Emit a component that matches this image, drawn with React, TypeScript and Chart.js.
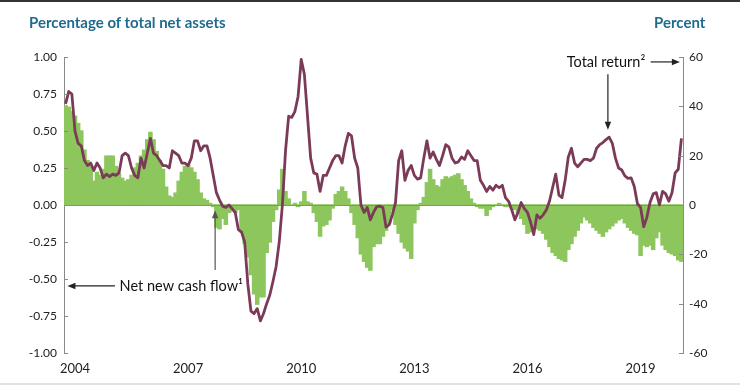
import React, { useEffect, useRef } from 'react';
import { Chart, registerables } from 'chart.js';

Chart.register(...registerables);

// Monthly series; first category is October 2003
const START_YEAR = 2003;
const START_MONTH = 10;
const yearLabels = ['2004', '2007', '2010', '2013', '2016', '2019'];

// Net new cash flow, percentage of total net assets (left axis)
const netNewCashFlow = [
  0.67, 0.66, 0.63, 0.60, 0.55, 0.50, 0.37, 0.30, 0.26, 0.16,
  0.22, 0.20, 0.24, 0.33, 0.33, 0.33, 0.26, 0.21, 0.18, 0.16,
  0.17, 0.20, 0.25, 0.28, 0.33, 0.37, 0.44, 0.49, 0.44, 0.36,
  0.30, 0.24, 0.12, 0.06, 0.05, 0.08, 0.16, 0.22, 0.26, 0.27,
  0.25, 0.22, 0.17, 0.08, 0.04, 0.03, 0.01, -0.01, -0.15, -0.16,
  -0.09, -0.13, -0.05, -0.04, -0.05, -0.03, -0.18, -0.26, -0.35, -0.47,
  -0.60, -0.67, -0.62, -0.62, -0.32, -0.25, -0.11, -0.03, 0.10, 0.24,
  0.09, 0.04, 0.00, 0.01, -0.01, 0.02, 0.09, 0.02, 0.01, -0.05,
  -0.11, -0.21, -0.14, -0.13, -0.10, -0.02, 0.07, 0.09, 0.12, 0.09,
  0.04, -0.05, -0.13, -0.22, -0.33, -0.38, -0.42, -0.44, -0.28, -0.26,
  -0.26, -0.21, -0.17, -0.12, -0.03, -0.13, -0.19, -0.25, -0.29, -0.31,
  -0.36, -0.12, -0.03, 0.01, 0.05, 0.15, 0.24, 0.17, 0.13, 0.12,
  0.17, 0.19, 0.18, 0.19, 0.20, 0.21, 0.17, 0.13, 0.09, 0.04,
  0.01, -0.01, -0.02, -0.02, -0.07, -0.03, -0.01, 0.00, 0.01, 0.00,
  -0.01, -0.01, -0.02, -0.03, -0.05, -0.09, -0.13, -0.19, -0.18, -0.16,
  -0.16, -0.17, -0.19, -0.23, -0.28, -0.32, -0.34, -0.36, -0.37, -0.38,
  -0.30, -0.26, -0.21, -0.17, -0.12, -0.08, -0.10, -0.12, -0.15, -0.17,
  -0.19, -0.21, -0.18, -0.16, -0.14, -0.12, -0.10, -0.09, -0.12, -0.15,
  -0.17, -0.19, -0.20, -0.34, -0.27, -0.28, -0.27, -0.30, -0.22, -0.18,
  -0.27, -0.30, -0.32, -0.33, -0.34, -0.37, -0.38,
];

// Total return, percent (right axis)
const totalReturn = [
  41, 46, 45, 30, 25, 24, 18, 16, 17, 14,
  17, 15, 11, 12.5, 11.5, 12.5, 12, 13, 20, 21,
  20, 15, 12, 11, 19, 15, 21, 27, 21, 20,
  18, 16, 16, 15, 22, 21, 20, 17, 17, 16,
  19, 26, 26, 22, 24, 24, 19, 12, 5, 2,
  -0.5, -1, 0, -1.5, -3, -10, -11, -15, -32, -43,
  -44, -42, -47, -44, -40, -36.5, -31, -25, -15, 0,
  22, 36, 35.5, 38, 44, 59, 53, 36, 19, 13,
  12.5, 5.5, 12, 12, 15, 18, 20, 20, 17, 24,
  29, 28, 19, 15, 0, -3, -1, -6, -3, -0.7,
  -0.5, -1, -9, -8, -4, 1, 18, 22, 10, 14,
  16, 12, 10.5, 11, 19, 26, 19, 21.5, 18.5, 16,
  20, 24.5, 23.5, 19, 17, 17.5, 19.5, 18.5, 22, 20,
  18, 18, 10, 8, 5.5, 7.5, 6, 8, 7, 8,
  3, 1.5, -2, -6, -3, 1, -1.5, -3, -7, -12,
  -4, -5.4, -4, -2, 1.5, 7, 12.5, 4, 3, 10,
  19.5, 23, 17, 15.5, 17, 18.5, 18.5, 18, 19, 23,
  24.5, 25.3, 26.5, 27.5, 25, 19, 15, 14.2, 11.8, 10.8,
  11, 7.5, 0.5, -1, -8.8, -5, 1, 4.5, 5, 0,
  5.5, 4.5, 1.5, 5, 13, 14.5, 27,
];

const months = netNewCashFlow.map((_, i) => {
  const m = START_MONTH - 1 + i;
  const y = START_YEAR + Math.floor(m / 12);
  const mm = (m % 12) + 1;
  return `${y}-${String(mm).padStart(2, '0')}`;
});

const GREEN = '#8dc65c';
const MAROON = '#7b3b58';
const AXIS = '#8a8a8a';
const TEXT = '#222222';
const FONT = 'Lato, "Open Sans", sans-serif';

function drawArrow(ctx: CanvasRenderingContext2D, x1: number, y1: number, x2: number, y2: number, color: string) {
  const ang = Math.atan2(y2 - y1, x2 - x1);
  const L = 8;
  const W = 3.2;
  const cos = Math.cos(ang);
  const sin = Math.sin(ang);
  ctx.save();
  ctx.strokeStyle = color;
  ctx.fillStyle = color;
  ctx.lineWidth = 1.2;
  ctx.beginPath();
  ctx.moveTo(x1, y1);
  ctx.lineTo(x2 - L * cos * 0.8, y2 - L * sin * 0.8);
  ctx.stroke();
  ctx.beginPath();
  ctx.moveTo(x2, y2);
  ctx.lineTo(x2 - L * cos + W * sin, y2 - L * sin - W * cos);
  ctx.lineTo(x2 - L * cos - W * sin, y2 - L * sin + W * cos);
  ctx.closePath();
  ctx.fill();
  ctx.restore();
}

const decorPlugin = {
  id: 'decor',
  afterDatasetDraw(chart: any, args: any) {
    if (args.index !== 1) return;
    const { ctx, chartArea, scales } = chart;
    const y0 = Math.round(scales.y.getPixelForValue(0)) + 0.5;
    ctx.save();
    ctx.strokeStyle = AXIS;
    ctx.lineWidth = 1;
    ctx.beginPath();
    ctx.moveTo(chartArea.left, y0);
    ctx.lineTo(chartArea.right, y0);
    ctx.stroke();
    ctx.restore();
  },
  afterDraw(chart: any) {
    const { ctx, chartArea, scales } = chart;
    const { x, y, y1 } = scales;
    ctx.save();
    ctx.strokeStyle = AXIS;
    ctx.lineWidth = 1;
    // inside tick marks
    y.ticks.forEach((t: any) => {
      const py = Math.round(y.getPixelForValue(t.value)) + 0.5;
      ctx.beginPath();
      ctx.moveTo(chartArea.left, py);
      ctx.lineTo(chartArea.left + 4, py);
      ctx.stroke();
    });
    y1.ticks.forEach((t: any) => {
      const py = Math.round(y1.getPixelForValue(t.value)) + 0.5;
      ctx.beginPath();
      ctx.moveTo(chartArea.right, py);
      ctx.lineTo(chartArea.right - 4, py);
      ctx.stroke();
    });
    ctx.restore();

    // annotations
    ctx.save();
    ctx.font = `14.5px ${FONT}`;
    ctx.fillStyle = '#111';
    ctx.textBaseline = 'middle';
    ctx.textAlign = 'left';
    const flowY = y.getPixelForValue(-0.547);
    ctx.fillText('Net new cash flow\u00b9', x.getPixelForValue(17.2), flowY);
    drawArrow(ctx, x.getPixelForValue(15.7), flowY, x.getPixelForValue(0.6), flowY, '#222');
    drawArrow(ctx, x.getPixelForValue(47.6), y.getPixelForValue(-0.44), x.getPixelForValue(47.6), y.getPixelForValue(-0.035), '#555');

    const retY = y1.getPixelForValue(58);
    ctx.textAlign = 'right';
    ctx.fillText('Total return\u00b2', x.getPixelForValue(184.5), retY);
    drawArrow(ctx, x.getPixelForValue(186.2), retY, x.getPixelForValue(195.5), retY, '#222');
    drawArrow(ctx, x.getPixelForValue(172.6), y1.getPixelForValue(53), x.getPixelForValue(172.6), y1.getPixelForValue(30.5), '#222');
    ctx.restore();
  },
};

export default function App() {
  const canvasRef = useRef<HTMLCanvasElement | null>(null);

  useEffect(() => {
    if (!canvasRef.current) return;
    const chart = new Chart(canvasRef.current, {
      type: 'bar',
      data: {
        labels: months,
        datasets: [
          {
            type: 'line',
            label: 'Total return',
            data: totalReturn,
            yAxisID: 'y1',
            borderColor: MAROON,
            borderWidth: 2.8,
            pointRadius: 0,
            tension: 0,
            borderJoinStyle: 'round',
            order: 1,
          } as any,
          {
            type: 'bar',
            label: 'Net new cash flow',
            data: netNewCashFlow,
            yAxisID: 'y',
            backgroundColor: GREEN,
            borderWidth: 0,
            inflateAmount: 0.7,
            barPercentage: 1,
            categoryPercentage: 1,
            order: 2,
          } as any,
        ],
      },
      options: {
        animation: false,
        responsive: false,
        devicePixelRatio: 1,
        layout: { padding: { top: 57, left: 0, right: 0, bottom: 0 } },
        plugins: {
          legend: { display: false },
          tooltip: { enabled: false },
        },
        scales: {
          x: {
            type: 'category',
            offset: true,
            grid: { display: false, drawTicks: false },
            border: { display: false },
            ticks: {
              autoSkip: false,
              maxRotation: 0,
              minRotation: 0,
              padding: 8,
              color: TEXT,
              font: { family: FONT, size: 13 },
              callback: (_v: any, idx: number) => {
                const [yr, mo] = months[idx].split('-');
                return mo === '01' && yearLabels.includes(yr) ? yr : '';
              },
            },
            afterFit: (s: any) => { s.height = 32; },
          },
          y: {
            position: 'left',
            min: -1,
            max: 1,
            grid: { display: false, drawTicks: false },
            border: { display: true, color: AXIS, width: 1 },
            ticks: {
              stepSize: 0.25,
              padding: 7,
              color: TEXT,
              font: { family: FONT, size: 12 },
              callback: (v: any) => Number(v).toFixed(2),
            },
            afterFit: (s: any) => { s.width = 64; },
          },
          y1: {
            position: 'right',
            min: -60,
            max: 60,
            grid: { display: false, drawTicks: false },
            border: { display: true, color: AXIS, width: 1 },
            ticks: {
              stepSize: 20,
              padding: 6,
              color: TEXT,
              font: { family: FONT, size: 12 },
              callback: (v: any) => String(v),
            },
            afterFit: (s: any) => { s.width = 57; },
          },
        },
      } as any,
      plugins: [decorPlugin],
    });
    return () => chart.destroy();
  }, []);

  const titleStyle: React.CSSProperties = {
    position: 'absolute',
    top: 15,
    fontFamily: FONT,
    fontWeight: 700,
    fontSize: 15,
    lineHeight: '15px',
    color: '#1f6b8e',
    whiteSpace: 'nowrap',
  };

  return (
    <div style={{ position: 'fixed', left: 0, top: 0, width: 740, height: 385, background: '#fff', overflow: 'hidden' }}>
      <canvas ref={canvasRef} width={740} height={385} style={{ position: 'absolute', left: 0, top: 0, width: 740, height: 385 }} />
      <div style={{ ...titleStyle, left: 29 }}>Percentage of total net assets</div>
      <div style={{ ...titleStyle, left: 654 }}>Percent</div>
      <div style={{ position: 'absolute', left: 0, top: 0, width: 740, height: 2, background: '#333' }} />
      <div style={{ position: 'absolute', left: 0, top: 383, width: 740, height: 2, background: '#e2e2e2' }} />
    </div>
  );
}
